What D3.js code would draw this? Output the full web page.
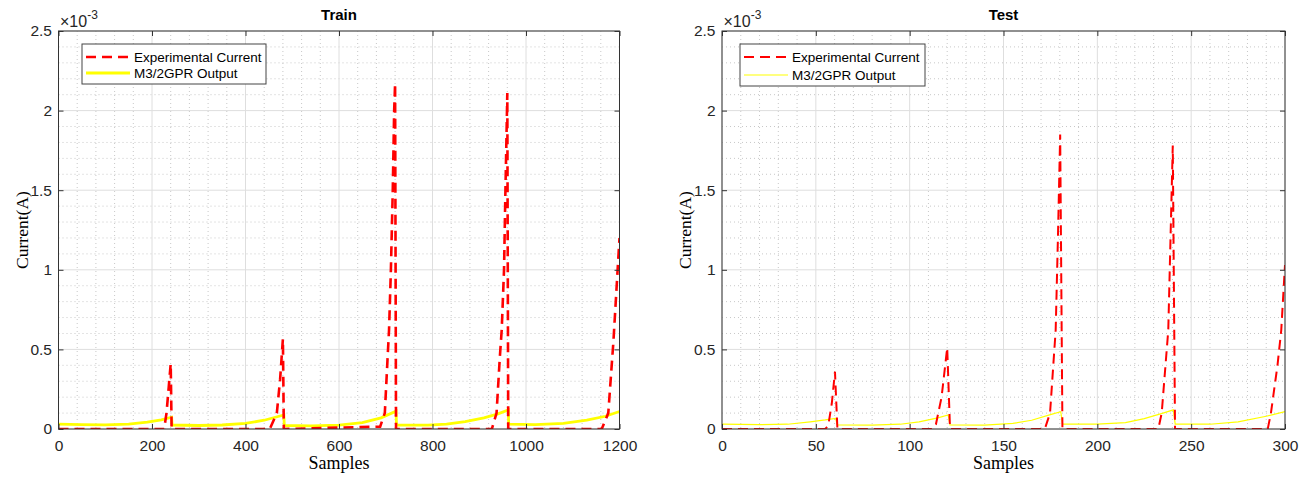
<!DOCTYPE html>
<html>
<head>
<meta charset="utf-8">
<script src="https://cdn.jsdelivr.net/npm/d3@7"></script>
<style>
body { margin: 0; background: #fff; }
svg { display: block; background: #fff; }
</style>
</head>
<body>
<svg width="1307" height="479"></svg>
<script>
// data: [sample, current (A)]
var trainCurrent = [
    [0, 0], [226, 0], [231, 0.1e-3], [235.7, 0.26e-3], [240, 0.41e-3], [242, 0],
    [452, 0], [467, 0.1e-3], [474, 0.31e-3], [480, 0.565e-3], [482, 0],
    [688, 0.015e-3], [698, 0.1e-3], [704, 0.45e-3], [707, 0.62e-3], [711, 1.0e-3], [715, 1.5e-3], [718, 2.0e-3], [720, 2.17e-3], [722, 0],
    [927, 0], [937, 0.1e-3], [944, 0.45e-3], [948, 0.62e-3], [953, 1.0e-3], [956, 1.5e-3], [959, 1.95e-3], [960, 2.11e-3], [962, 0],
    [1162, 0], [1176, 0.1e-3], [1187, 0.55e-3], [1191, 0.75e-3], [1196, 1.0e-3], [1200, 1.2e-3]
];
var trainGpr = [
    [0, 0.031e-3], [50, 0.027e-3], [100, 0.026e-3], [150, 0.031e-3], [190, 0.043e-3], [220, 0.058e-3], [242, 0.074e-3],
    [243, 0.025e-3], [300, 0.022e-3], [350, 0.025e-3], [400, 0.035e-3], [440, 0.055e-3], [482, 0.088e-3],
    [483, 0.022e-3], [540, 0.02e-3], [600, 0.024e-3], [650, 0.04e-3], [690, 0.07e-3], [722, 0.112e-3],
    [723, 0.025e-3], [790, 0.024e-3], [830, 0.03e-3], [870, 0.046e-3], [910, 0.07e-3], [940, 0.095e-3], [962, 0.12e-3],
    [963, 0.03e-3], [1020, 0.027e-3], [1080, 0.035e-3], [1130, 0.055e-3], [1170, 0.08e-3], [1200, 0.11e-3]
];
var testCurrent = [
    [0, 0], [55, 0], [56.6, 0.02e-3], [58.5, 0.16e-3], [60.2, 0.36e-3], [61.5, 0],
    [112, 0], [114, 0.03e-3], [117, 0.2e-3], [120, 0.51e-3], [121.5, 0],
    [172, 0], [174.8, 0.1e-3], [177.8, 0.62e-3], [179, 1.2e-3], [180.2, 1.85e-3], [181.4, 0],
    [232.5, 0], [234.3, 0.1e-3], [237.8, 0.62e-3], [239, 1.2e-3], [240.2, 1.78e-3], [241.4, 0],
    [290.8, 0], [292.5, 0.1e-3], [296, 0.4e-3], [298, 0.62e-3], [300, 1.03e-3]
];
var testGpr = [
    [0, 0.031e-3], [20, 0.027e-3], [35, 0.03e-3], [47, 0.045e-3], [55, 0.057e-3], [60.5, 0.067e-3],
    [61.5, 0.025e-3], [80, 0.024e-3], [95, 0.03e-3], [105, 0.045e-3], [115, 0.07e-3], [120.5, 0.088e-3],
    [121.5, 0.025e-3], [140, 0.024e-3], [155, 0.035e-3], [165, 0.055e-3], [175, 0.09e-3], [180.5, 0.109e-3],
    [181.5, 0.03e-3], [200, 0.03e-3], [215, 0.04e-3], [225, 0.065e-3], [235, 0.1e-3], [240.5, 0.12e-3],
    [241.5, 0.031e-3], [260, 0.03e-3], [275, 0.045e-3], [290, 0.08e-3], [300, 0.109e-3]
];
var trainXTicks = [0, 200, 400, 600, 800, 1000, 1200];
var testXTicks = [0, 50, 100, 150, 200, 250, 300];
var yTicks = [0, 0.5e-3, 1e-3, 1.5e-3, 2e-3, 2.5e-3];
var seriesNames = ["Experimental Current", "M3/2GPR Output"];
var titles = ["Train", "Test"];

var svg = d3.select("svg");
var top_ = 31, bottom = 429;

var panels = [
    { title: titles[0], left: 58.5, right: 619.5, xTicks: trainXTicks, minorStep: 40,
      current: trainCurrent, gpr: trainGpr, redW: 2.6, yelW: 2.8, legX: 82, legW: 184, legH: 40, ylabX: 22 },
    { title: titles[1], left: 722, right: 1285, xTicks: testXTicks, minorStep: 10,
      current: testCurrent, gpr: testGpr, redW: 2, yelW: 1.2, legX: 740, legW: 185, legH: 42, ylabX: 685 }
];

var sans = "'Liberation Sans', Arial, sans-serif";
var serif = "'Liberation Serif', 'Times New Roman', serif";

panels.forEach(function (p, i) {
    var xMax = p.xTicks[p.xTicks.length - 1];
    var x = d3.scaleLinear().domain([0, xMax]).range([p.left, p.right]);
    var y = d3.scaleLinear().domain([0, 2.5e-3]).range([bottom, top_]);
    var g = svg.append("g");

    //minor grid
    var xMinor = d3.range(0, xMax + 0.001, p.minorStep).filter(function (v) { return p.xTicks.indexOf(v) < 0; });
    var yMinor = d3.range(0, 2.5e-3 + 1e-9, 0.1e-3).filter(function (v, k) { return k % 5 != 0; });
    g.selectAll(".xminor").data(xMinor).enter().append("line")
        .attr("x1", x).attr("x2", x).attr("y1", top_).attr("y2", bottom)
        .attr("stroke", "#c8c8c8").attr("stroke-dasharray", "1,3");
    g.selectAll(".yminor").data(yMinor).enter().append("line")
        .attr("x1", p.left).attr("x2", p.right).attr("y1", y).attr("y2", y)
        .attr("stroke", "#c8c8c8").attr("stroke-dasharray", "1,3");
    //major grid
    g.selectAll(".xmajor").data(p.xTicks).enter().append("line")
        .attr("x1", x).attr("x2", x).attr("y1", top_).attr("y2", bottom)
        .attr("stroke", "#dedede");
    g.selectAll(".ymajor").data(yTicks).enter().append("line")
        .attr("x1", p.left).attr("x2", p.right).attr("y1", y).attr("y2", y)
        .attr("stroke", "#dedede");

    // lines
    var clipId = "clip" + i;
    svg.append("clipPath").attr("id", clipId).append("rect")
        .attr("x", p.left).attr("y", top_ - 2).attr("width", p.right - p.left).attr("height", bottom - top_ + 2);
    var line = d3.line().x(function (d) { return x(d[0]); }).y(function (d) { return y(d[1]); });
    var lines = svg.append("g").attr("clip-path", "url(#" + clipId + ")");
    lines.append("path").datum(p.gpr).attr("d", line)
        .attr("fill", "none").attr("stroke", "#ffff00").attr("stroke-width", p.yelW);
    lines.append("path").datum(p.current).attr("d", line)
        .attr("fill", "none").attr("stroke", "#ff0000").attr("stroke-width", p.redW)
        .attr("stroke-dasharray", "10,6");

    // axes
    var ax = svg.append("g").attr("font-family", sans);
    ax.append("g").attr("transform", "translate(0," + bottom + ")")
        .call(d3.axisBottom(x).tickValues(p.xTicks).tickSizeInner(-5).tickSizeOuter(0).tickPadding(11)
            .tickFormat(d3.format("d")));
    ax.append("g").attr("transform", "translate(0," + top_ + ")")
        .call(d3.axisTop(x).tickValues(p.xTicks).tickSizeInner(-5).tickSizeOuter(0).tickFormat(""));
    ax.append("g").attr("transform", "translate(" + p.left + ",0)")
        .call(d3.axisLeft(y).tickValues(yTicks).tickSizeInner(-5).tickSizeOuter(0).tickPadding(6.5)
            .tickFormat(function (d) { return String(+(d * 1e3).toFixed(1)); }));
    ax.append("g").attr("transform", "translate(" + p.right + ",0)")
        .call(d3.axisRight(y).tickValues(yTicks).tickSizeInner(-5).tickSizeOuter(0).tickFormat(""));
    ax.selectAll(".domain").remove();
    ax.selectAll(".tick line").attr("stroke", "#333");
    ax.selectAll(".tick text").attr("font-size", 15.5).attr("fill", "#262626").attr("font-family", sans);

    // box on top
    svg.append("rect").attr("x", p.left).attr("y", top_)
        .attr("width", p.right - p.left).attr("height", bottom - top_)
        .attr("fill", "none").attr("stroke", "#333").attr("stroke-width", 1);

    // exponent
    var ex = svg.append("text").attr("x", p.left + 1.5).attr("y", 27)
        .attr("font-family", sans).attr("font-size", 16).attr("fill", "#262626");
    ex.append("tspan").text("\u00d710");
    ex.append("tspan").attr("dy", -8).attr("font-size", 12).text("-3");

    // title and labels
    svg.append("text").attr("x", (p.left + p.right) / 2).attr("y", 20)
        .attr("text-anchor", "middle").attr("font-family", sans)
        .attr("font-weight", "bold").attr("font-size", 15).text(p.title);
    svg.append("text").attr("x", (p.left + p.right) / 2).attr("y", 469)
        .attr("text-anchor", "middle").attr("font-family", serif)
        .attr("font-size", 18).text("Samples");
    svg.append("text").attr("transform", "translate(" + p.ylabX + "," + ((top_ + bottom) / 2) + ") rotate(-90)")
        .attr("text-anchor", "middle").attr("font-family", serif)
        .attr("font-size", 17.5).attr("dy", "0.35em").text("Current(A)");

    // legend
    var leg = svg.append("g").attr("transform", "translate(" + p.legX + ",44)");
    leg.append("rect").attr("width", p.legW).attr("height", p.legH)
        .attr("fill", "#fff").attr("stroke", "#444").attr("stroke-width", 1);
    var rows = [
        { name: seriesNames[0], color: "#ff0000", w: p.redW, dash: "10,6", yy: 13 },
        { name: seriesNames[1], color: "#ffff00", w: p.yelW, dash: null, yy: p.legH - 11 }
    ];
    rows.forEach(function (r) {
        leg.append("line").attr("x1", 4).attr("x2", 48).attr("y1", r.yy).attr("y2", r.yy)
            .attr("stroke", r.color).attr("stroke-width", r.w)
            .attr("stroke-dasharray", r.dash);
        leg.append("text").attr("x", 52).attr("y", r.yy).attr("dy", "0.35em")
            .attr("font-family", sans).attr("font-size", 13.5).text(r.name);
    });
});
</script>
</body>
</html>
